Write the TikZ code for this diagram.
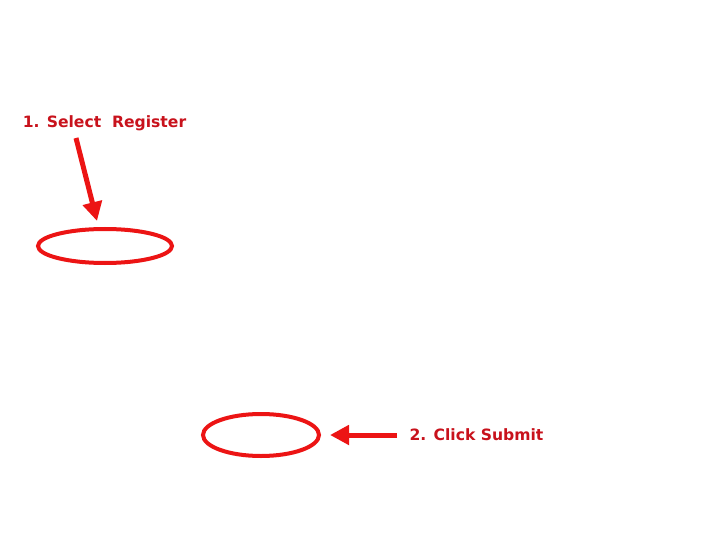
\documentclass[tikz,border=0pt]{standalone}
\usepackage{fontspec}
\setmainfont{DejaVu Sans}
\usetikzlibrary{shapes.geometric,arrows.meta,positioning}
\definecolor{markred}{RGB}{236,20,20}
\definecolor{labelred}{RGB}{200,18,28}

\begin{document}
\begin{tikzpicture}[x=1pt, y=-1pt,
    ring/.style={ellipse, draw=markred, line width=4pt, inner sep=0pt},
    hint/.style={font=\fontsize{15.6}{18}\selectfont\bfseries, text=labelred, inner sep=0pt},
    pointer/.style={-{Triangle[length=19pt, width=19pt]}, draw=markred, fill=markred, line width=5pt}]

    \useasboundingbox (0,0) rectangle (720,540);

    % Step 1
    \node[hint] (select) at (104.5,123) {1. Select\ \ Register};
    \node[ring, minimum width=134pt, minimum height=34pt] (regbox) at (105,246) {};
    \coordinate (selstart) at (76,138);
    \coordinate (seltip) at (97,221);
    \draw[pointer] (selstart) -- (seltip);

    % Step 2
    \node[hint] (submit) at (476.5,435) {2. Click Submit};
    \node[ring, minimum width=116pt, minimum height=42pt] (subbox) at (261,435) {};
    \coordinate (substart) at (397,435);
    \coordinate (subtip) at (330,435);
    \draw[pointer] (substart) -- (subtip);
\end{tikzpicture}
\end{document}
